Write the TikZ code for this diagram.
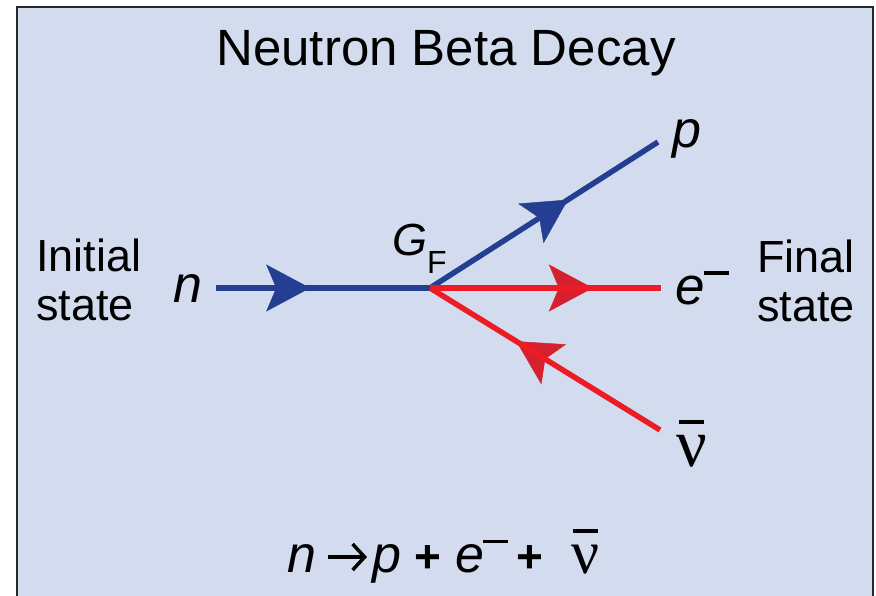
\documentclass[tikz,border=0pt]{standalone}
\usepackage{fontspec}
\setmainfont{Liberation Sans}
\newfontfamily\nufont{Liberation Serif}
\usetikzlibrary{arrows.meta,decorations.markings}
\definecolor{bg}{RGB}{211,220,238}
\definecolor{fblue}{RGB}{36,62,146}
\definecolor{fred}{RGB}{237,28,36}
\definecolor{fredhead}{RGB}{214,32,46}
\definecolor{frameclr}{RGB}{40,40,40}
\newcommand\fs[1]{\fontsize{#1}{#1}\selectfont}
\newcommand\minusbar[2]{\kern#2\rule[0.55em]{#1}{0.075em}}
\newcommand\nubar[3]{\ooalign{\nufont ν\cr\hidewidth\rule[#1]{#2}{#3}\hidewidth\cr}}
\tikzset{
  lbl/.style={inner sep=0pt, anchor=base west},
  lineblue/.style={draw=fblue, line width=5.5pt},
  linered/.style={draw=fred, line width=5.5pt},
  fwdhead/.style 2 args={postaction={decorate}, decoration={markings,
      mark=at position #1 with {\arrow[#2]{Stealth[length=44pt,width=47pt,inset=10pt]}}}},
  revhead/.style 2 args={postaction={decorate}, decoration={markings,
      mark=at position #1 with {\arrowreversed[#2]{Stealth[length=44pt,width=47pt,inset=10pt]}}}},
}
\begin{document}
\begin{tikzpicture}[x=1pt,y=-1pt]
\useasboundingbox (0,0) rectangle (876,595);
\path[fill=bg, draw=frameclr, line width=2pt] (17,7) rectangle (873,612);

% title
\node[lbl, anchor=base, font=\fs{51}] (title) at (446,65) {Neutron Beta Decay};

% side labels
\node[inner sep=0pt, anchor=north west, align=left, font=\fontsize{45}{49}\selectfont] (init) at (36,239) {Initial\\state};
\node[inner sep=0pt, anchor=north west, align=left, font=\fontsize{45}{49}\selectfont] (final) at (757,240) {Final\\state};

% vertex and line ends
\coordinate (V) at (430,288);
\coordinate (nS) at (216,288);
\coordinate (pE) at (658,142);
\coordinate (eE) at (661,288);
\coordinate (vE) at (660,430);

% heads (under the lines)
\path[fwdhead={0.44}{fblue}] (nS) -- (V);
\path[fwdhead={0.605}{fblue}] (V) -- (pE);
\path[fwdhead={0.705}{fredhead}] (V) -- (eE);
\path[revhead={0.375}{fredhead}] (V) -- (vE);

% lines
\draw[lineblue] (nS) -- (V);
\draw[lineblue] (V) -- (pE);
\draw[linered] (V) -- (eE);
\draw[linered] (V) -- (vE);

% particle labels
\node[lbl, font=\fs{52}\itshape] (nlab) at (173,302) {n};
\node[lbl, font=\fs{52}\itshape] (plab) at (672,147) {p};
\node[lbl, font=\fs{53}\itshape] (elab) at (675,304) {e\minusbar{0.47em}{-0.02em}};
\node[lbl, font=\fs{45}] (gf) at (392,255) {\textit{G}\raisebox{-0.42em}{\fs{32}F}};
\node[lbl, font=\fs{68}] (nulab) at (676,466) {\nubar{0.62em}{0.36em}{0.06em}};

% equation
\node[lbl, font=\fs{52}\itshape] (eqn) at (287,572) {n};
\node[lbl, font=\fs{52}\itshape] (eqp) at (372,572) {p};
\coordinate (arS) at (328,557);
\coordinate (arE) at (367,557);
\draw[line width=3.5pt, -{Straight Barb[length=12pt,width=26pt]}] (arS) -- (arE);
\node[lbl, font=\fs{46}\bfseries] (plus1) at (414,572) {+};
\node[lbl, font=\fs{52}\itshape] (eqe) at (455,572) {e\minusbar{0.47em}{-0.02em}};
\node[lbl, font=\fs{46}\bfseries] (plus2) at (516,572) {+};
\node[lbl, font=\fs{62}] (eqnu) at (571,573) {\nubar{0.64em}{0.41em}{0.066em}};
\end{tikzpicture}
\end{document}
